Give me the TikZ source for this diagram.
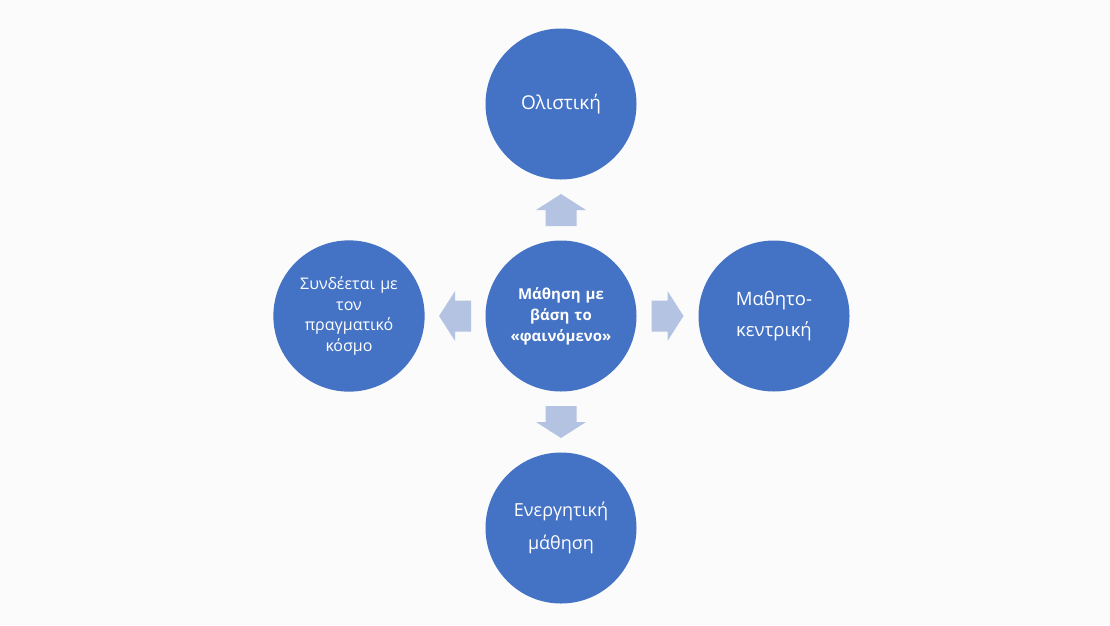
\documentclass[tikz,border=0pt]{standalone}
\usepackage{fontspec}
\setmainfont{Open Sans}
\usetikzlibrary{calc}
\definecolor{circblue}{HTML}{4472C4}
\definecolor{arrblue}{HTML}{B4C3E1}
\definecolor{bg}{HTML}{FBFBFC}
\begin{document}
\begin{tikzpicture}[x=1pt,y=-1pt,
  circ/.style={circle,fill=circblue,draw=none,minimum size=151pt,inner sep=0pt,
    text=white,align=center,text width=130pt},
  blockarrow/.pic={\fill[arrblue] (-16,-15.5) -- (0,-15.5) -- (0,-25) -- (16,0) -- (0,25) -- (0,15.5) -- (-16,15.5) -- cycle;}
]
\fill[bg] (0,0) rectangle (1110,625);
\useasboundingbox (0,0) rectangle (1110,625);

\node[circ,font=\fontsize{15}{21}\selectfont\bfseries] (c) at (561,316) {Μάθηση με\\ βάση το\\ «φαινόμενο»};
\node[circ,font=\fontsize{19}{24}\selectfont] (t) at (561,104) {Ολιστική};
\node[circ,font=\fontsize{18}{33}\selectfont] (b) at (561,528) {Ενεργητική\\ μάθηση};
\node[circ,font=\fontsize{18.5}{31}\selectfont] (r) at (774,316) {Μαθητο-\\ κεντρική};
\node[circ,font=\fontsize{16}{20.5}\selectfont] (l) at (349,316) {Συνδέεται με\\ τον\\ πραγματικό\\ κόσμο};

\coordinate (mt) at ($(c.north)!0.5!(t.south)$);
\coordinate (mb) at ($(c.south)!0.5!(b.north)$);
\coordinate (ml) at ($(c.west)!0.5!(l.east)$);
\coordinate (mr) at ($(c.east)!0.5!(r.west)$);

\pic[rotate=90] at (mt) {blockarrow};
\pic[rotate=-90] at (mb) {blockarrow};
\pic[rotate=180] at (ml) {blockarrow};
\pic at (mr) {blockarrow};
\end{tikzpicture}
\end{document}
